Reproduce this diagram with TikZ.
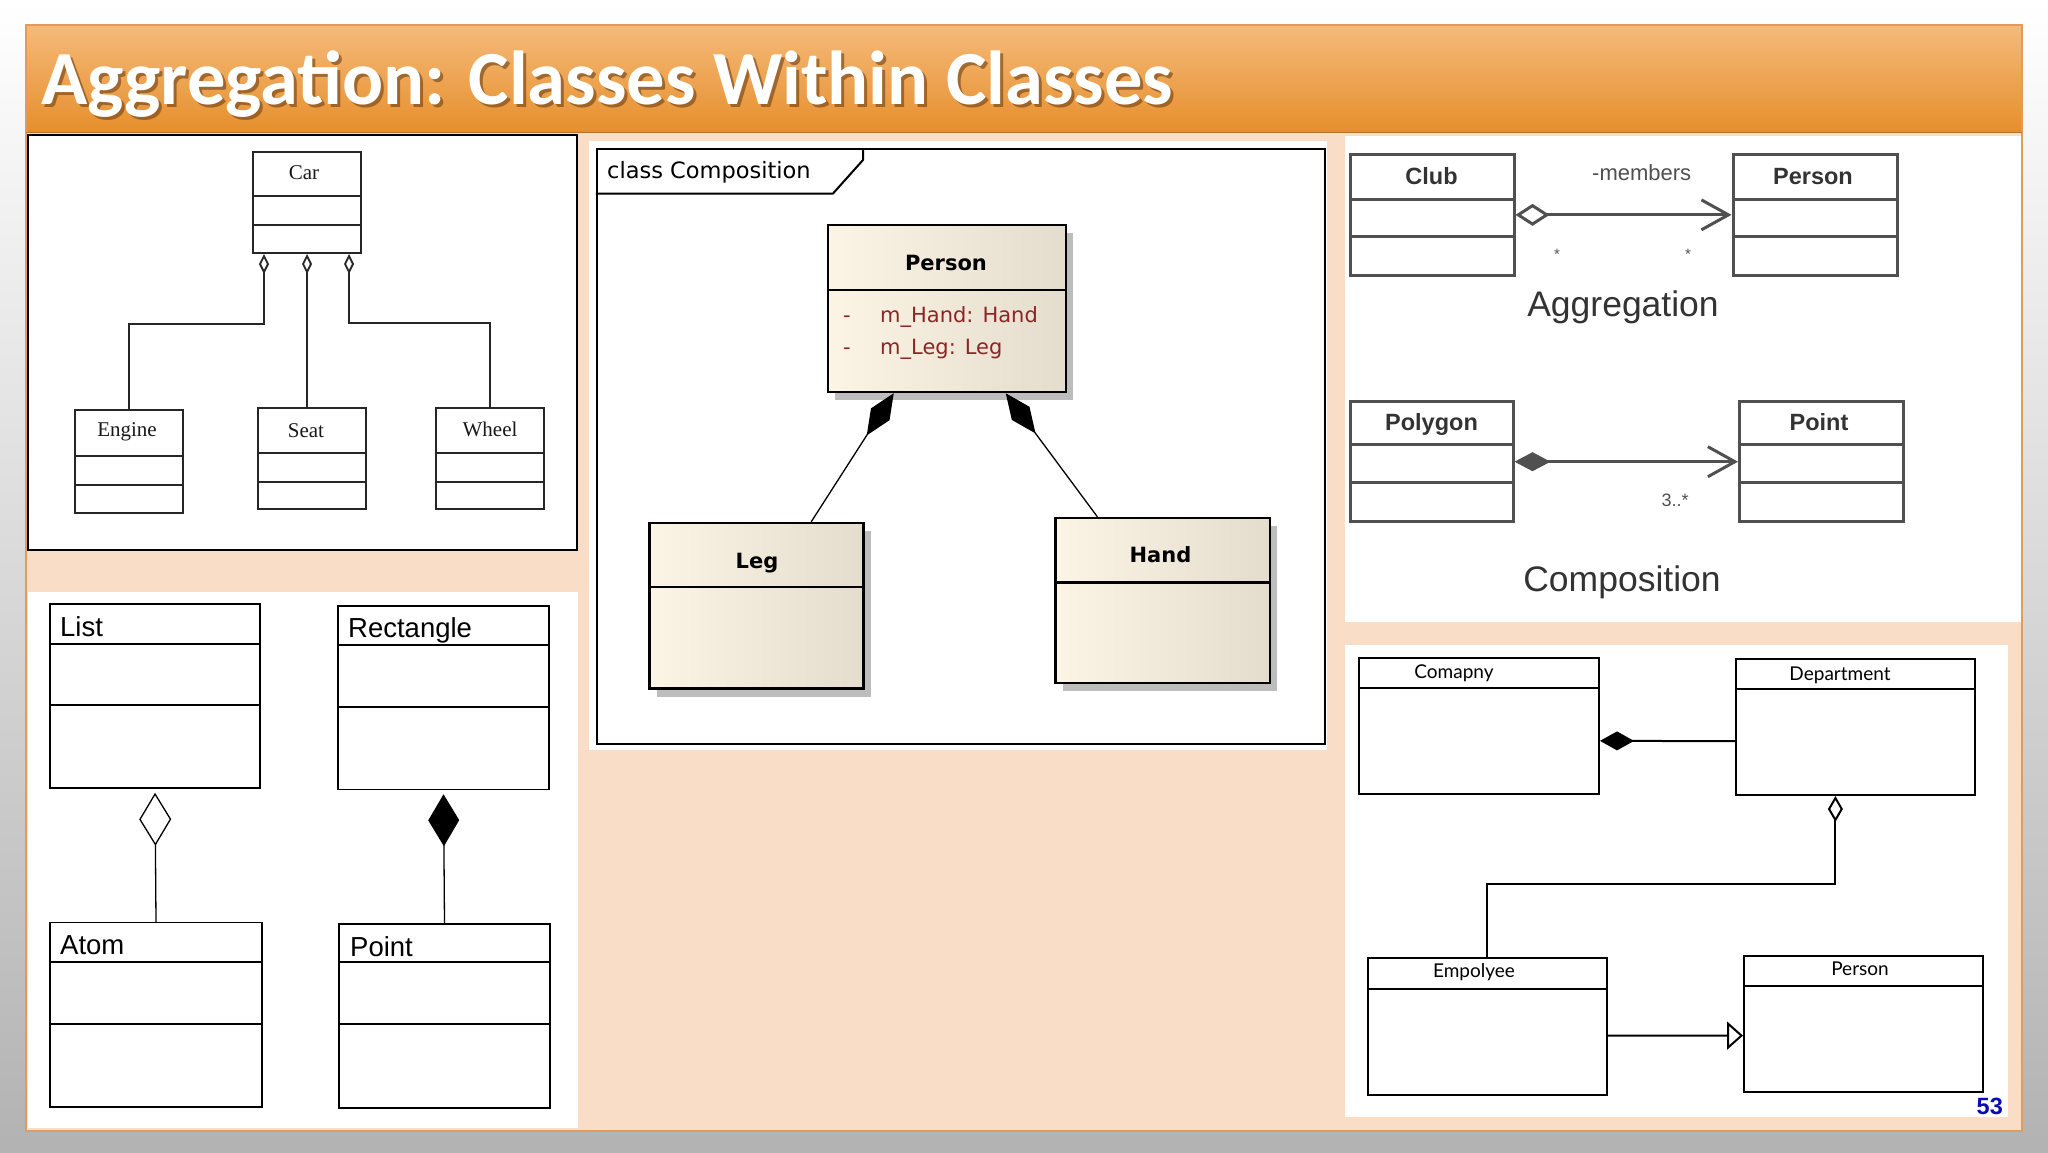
\documentclass[tikz,border=0pt]{standalone}
\usepackage{fontspec}
\setmainfont{Liberation Sans}
\newfontfamily\titlefont{Carlito}
\newfontfamily\carfont{Liberation Serif}
\newfontfamily\eafont{DejaVu Sans}
\newfontfamily\gillfont{Lato}
\usetikzlibrary{arrows.meta,fit,shadows}
\definecolor{peach}{HTML}{FADDC7}
\definecolor{slideedge}{HTML}{E39B5C}
\definecolor{hdrtop}{HTML}{F5BA7A}
\definecolor{hdrbot}{HTML}{E68F2C}
\definecolor{eaL}{HTML}{FCF4E5}
\definecolor{eaR}{HTML}{E4DDCE}
\definecolor{eashadow}{HTML}{BDBDBD}
\definecolor{attrred}{HTML}{8E2424}
\definecolor{pagenum}{HTML}{0A0AB8}
\definecolor{scan}{HTML}{505050}
\definecolor{scantext}{HTML}{333333}
\definecolor{titleshade}{HTML}{6E3F14}
\tikzset{
  cls/.style={inner sep=0pt, rectangle},
  carbox/.style={draw=black!85, line width=2pt},
  lbox/.style={draw=black, line width=1.5pt},
  eabox/.style={draw=black, line width=2.5pt, left color=eaL, right color=eaR,
     drop shadow={shadow xshift=7pt, shadow yshift=-8pt, fill=eashadow, opacity=1}},
  trbox/.style={draw=scan, line width=3pt},
  brbox/.style={draw=black, line width=2pt},
  cline/.style={draw=black!85, line width=1.8pt},
  lline/.style={draw=black, line width=1.3pt},
  eline/.style={draw=black, line width=1.3pt},
  tline/.style={draw=scan, line width=3pt},
  bline/.style={draw=black, line width=2pt},
  cartxt/.style={inner sep=0pt, text=black!90, font=\carfont\fontsize{21}{24}\selectfont},
  ltxt/.style={inner sep=0pt, anchor=base west, font=\fontsize{27.5}{30}\selectfont},
  eatxt/.style={inner sep=0pt, anchor=base, font=\eafont\bfseries\fontsize{21}{24}\selectfont},
  eaattr/.style={inner sep=0pt, anchor=base west, text=attrred, font=\eafont\fontsize{21}{24}\selectfont},
  trtxt/.style={inner sep=0pt, anchor=base, text=scantext, font=\bfseries\fontsize{23.5}{26}\selectfont},
  brtxt/.style={inner sep=0pt, anchor=center, font=\gillfont\fontsize{19}{22}\selectfont},
}
\begin{document}
\begin{tikzpicture}[x=1pt,y=-1pt]
\useasboundingbox (0,0) rectangle (2048,1152);
% background and slide
\shade[top color=white, bottom color=black!30] (0,0) rectangle (2048,1152);
\fill[peach] (26,25) rectangle (2022,1131);
\shade[top color=hdrtop, bottom color=hdrbot] (26,25) rectangle (2022,132);
\draw[slideedge, line width=1.5pt] (26,25) rectangle (2022,1131);
\draw[hdrbot!80!black, line width=1pt] (26,132) -- (2022,132);
% title
\node[anchor=base west, inner sep=0pt, text=titleshade, opacity=0.6,
      font=\titlefont\bfseries\fontsize{76.5}{80}\selectfont] (titleshadow) at (44,107) {Aggregation: Classes Within Classes};
\node[anchor=base west, inner sep=0pt, text=white,
      font=\titlefont\bfseries\fontsize{76.5}{80}\selectfont] (title) at (41,104) {Aggregation: Classes Within Classes};

% ---------------- Car panel
\fill[white] (28,135) rectangle (577,550);
\draw[black, line width=2.5pt] (28,135) rectangle (577,550);
\node[fit={(253,152) (361,253)}, cls, carbox] (car) {};
\draw[carbox] (car.west |- 0,196) -- (car.east |- 0,196) (car.west |- 0,225) -- (car.east |- 0,225);
\node[fit={(75,410) (183,513)}, cls, carbox] (engine) {};
\draw[carbox] (engine.west |- 0,456) -- (engine.east |- 0,456) (engine.west |- 0,485) -- (engine.east |- 0,485);
\node[fit={(258,408) (366,509)}, cls, carbox] (seat) {};
\draw[carbox] (seat.west |- 0,453) -- (seat.east |- 0,453) (seat.west |- 0,482) -- (seat.east |- 0,482);
\node[fit={(436,408) (544,509)}, cls, carbox] (wheel) {};
\draw[carbox] (wheel.west |- 0,453) -- (wheel.east |- 0,453) (wheel.west |- 0,482) -- (wheel.east |- 0,482);
\node[cartxt] (carT) at (304,173) {Car};
\node[cartxt] (engineT) at (127,432) {Engine};
\node[cartxt] (seatT) at (306,431) {Seat};
\node[cartxt] (wheelT) at (490,429) {Wheel};
\draw[cline, {Diamond[fill=white,length=20pt,width=10pt]}-] ([xshift=12pt]car.south west) -- ++(0,70) -| (engine.north);
\draw[cline, {Diamond[fill=white,length=20pt,width=10pt]}-] (car.south) -- (car.south |- seat.north);
\draw[cline, {Diamond[fill=white,length=20pt,width=10pt]}-] ([xshift=-13pt]car.south east) -- ++(0,69) -| (wheel.north);

% ---------------- List / Rectangle panel
\fill[white] (28,592) rectangle (578,1128);
\node[fit={(50,604) (260,788)}, cls, lbox] (list) {};
\draw[lbox] (list.west |- 0,644) -- (list.east |- 0,644) (list.west |- 0,705) -- (list.east |- 0,705);
\node[fit={(338,606) (549,789.5)}, cls, lbox] (rect) {};
\draw[lbox] (rect.west |- 0,645) -- (rect.east |- 0,645) (rect.west |- 0,707) -- (rect.east |- 0,707);
\node[fit={(50,922.5) (262,1107)}, cls, lbox] (atom) {};
\draw[lbox] (atom.west |- 0,962) -- (atom.east |- 0,962) (atom.west |- 0,1024) -- (atom.east |- 0,1024);
\node[fit={(339,924) (550,1108)}, cls, lbox] (pointL) {};
\draw[lbox] (pointL.west |- 0,962) -- (pointL.east |- 0,962) (pointL.west |- 0,1024) -- (pointL.east |- 0,1024);
\node[ltxt] (listT) at (60,636) {List};
\node[ltxt] (rectT) at (348,637) {Rectangle};
\node[ltxt] (atomT) at (60,954) {Atom};
\node[ltxt] (pointLT) at (350,956) {Point};
\draw[lline, {Diamond[fill=white,length=53pt,width=32pt]}-, shorten <=4pt] (list.south) -- (atom.north);
\draw[lline, {Diamond[length=52pt,width=31pt]}-, shorten <=4pt] (rect.south) -- (pointL.north);

% ---------------- class Composition panel
\fill[white] (589,141) rectangle (1327,750);
\node[fit={(597,149) (1325,744)}, cls, draw=black, line width=2.5pt] (frame) {};
\draw[black, line width=2pt] (frame.west |- 0,193.5) -- (833,193.5) -- (863,160) -- (863,149);
\node[anchor=base west, inner sep=0pt, font=\eafont\fontsize{22.5}{26}\selectfont] (tabT) at (607,178) {class Composition};
\node[fit={(828,225) (1066,392)}, cls, eabox] (person) {};
\draw[black, line width=2.5pt] (person.west |- 0,290) -- (person.east |- 0,290);
\node[fit={(649.5,523) (863.6,688.5)}, cls, eabox] (leg) {};
\draw[black, line width=2.5pt] (leg.west |- 0,587) -- (leg.east |- 0,587);
\node[fit={(1055.6,518) (1269.8,683)}, cls, eabox] (hand) {};
\draw[black, line width=2.5pt] (hand.west |- 0,582.7) -- (hand.east |- 0,582.7);
\node[eatxt] (personT) at (946,270) {Person};
\node[eatxt] (legT) at (757,568) {Leg};
\node[eatxt] (handT) at (1160.5,562) {Hand};
\node[eaattr] (a1m) at (843,322) {-};
\node[eaattr] (a1) at (880,322) {m\_Hand:\hspace{9pt}Hand};
\node[eaattr] (a2m) at (843,354) {-};
\node[eaattr] (a2) at (880,354) {m\_Leg:\hspace{9pt}Leg};
\draw[eline, {Diamond[length=50pt,width=22pt]}-] ([xshift=67pt]person.south west) -- ([xshift=163pt]leg.north west);
\draw[eline, {Diamond[length=50pt,width=22pt]}-] ([xshift=179pt]person.south west) -- ([xshift=43pt]hand.north west);

% ---------------- Aggregation / Composition panel
\fill[white] (1345,136) rectangle (2021,622);
\node[fit={(1350,154) (1514,275.7)}, cls, trbox] (club) {};
\draw[trbox] (club.west |- 0,199) -- (club.east |- 0,199) (club.west |- 0,236.7) -- (club.east |- 0,236.7);
\node[fit={(1733,154) (1897,275.7)}, cls, trbox] (personB) {};
\draw[trbox] (personB.west |- 0,199) -- (personB.east |- 0,199) (personB.west |- 0,236.7) -- (personB.east |- 0,236.7);
\node[fit={(1350,401.7) (1513,521.7)}, cls, trbox] (polygon) {};
\draw[trbox] (polygon.west |- 0,444) -- (polygon.east |- 0,444) (polygon.west |- 0,482.7) -- (polygon.east |- 0,482.7);
\node[fit={(1739.5,401.7) (1903,521.7)}, cls, trbox] (pointB) {};
\draw[trbox] (pointB.west |- 0,444) -- (pointB.east |- 0,444) (pointB.west |- 0,482.7) -- (pointB.east |- 0,482.7);
\node[trtxt] (clubT) at (1431.5,184) {Club};
\node[trtxt] (personBT) at (1813,184) {Person};
\node[trtxt] (polygonT) at (1431.5,430) {Polygon};
\node[trtxt] (pointBT) at (1819,430) {Point};
\draw[tline, {Diamond[fill=white,length=34pt,width=22pt]}-{Straight Barb[length=27pt,width=30pt]}] (club.east) -- (personB.west);
\draw[tline, {Diamond[length=36pt,width=19pt]}-{Straight Barb[length=27pt,width=30pt]}] (polygon.east) -- (pointB.west);
\node[inner sep=0pt, text=scan, font=\fontsize{22}{24}\selectfont] (members) at (1641.7,173) {-members};
\node[inner sep=0pt, text=scan, font=\fontsize{15}{16}\selectfont] (mulA) at (1557,254) {*};
\node[inner sep=0pt, text=scan, font=\fontsize{15}{16}\selectfont] (mulB) at (1688,254) {*};
\node[inner sep=0pt, text=scan, font=\fontsize{18}{20}\selectfont] (mulC) at (1675,500) {3..*};
\node[inner sep=0pt, text=scantext, font=\fontsize{35.5}{38}\selectfont] (aggT) at (1623,307) {Aggregation};
\node[inner sep=0pt, text=scantext, font=\fontsize{35.5}{38}\selectfont] (compT) at (1622,582) {Composition};

% ---------------- Company panel
\fill[white] (1345,645) rectangle (2008,1117);
\node[fit={(1359,657.7) (1599,794)}, cls, brbox] (company) {};
\draw[brbox] (company.west |- 0,687.7) -- (company.east |- 0,687.7);
\node[fit={(1736.4,659.3) (1975,795)}, cls, brbox] (department) {};
\draw[brbox] (department.west |- 0,689.3) -- (department.east |- 0,689.3);
\node[fit={(1367.7,958.3) (1606.5,1095)}, cls, brbox] (employee) {};
\draw[brbox] (employee.west |- 0,989) -- (employee.east |- 0,989);
\node[fit={(1744,955.7) (1983,1092.3)}, cls, brbox] (personC) {};
\draw[brbox] (personC.west |- 0,986) -- (personC.east |- 0,986);
\node[brtxt] (companyT) at (1454,673) {Comapny};
\node[brtxt] (departmentT) at (1840,675) {Department};
\node[brtxt] (employeeT) at (1474,972) {Empolyee};
\node[brtxt] (personCT) at (1860,969) {Person};
\draw[bline, {Diamond[length=34pt,width=19pt]}-] ([yshift=-15pt]company.east) -- ([yshift=-14pt]department.west);
\draw[bline, {Diamond[fill=white,length=26pt,width=15pt]}-] ([xshift=100pt]department.south west) -- ++(0,88) -| (employee.north);
\draw[bline, -{Triangle[fill=white,length=16pt,width=28pt]}] ([yshift=-9pt]employee.east) -- ([yshift=-11.6pt]personC.west);
\node[anchor=base east, inner sep=0pt, text=pagenum, font=\bfseries\fontsize{23.5}{26}\selectfont] (pagenumT) at (2003,1114) {53};
\end{tikzpicture}
\end{document}
